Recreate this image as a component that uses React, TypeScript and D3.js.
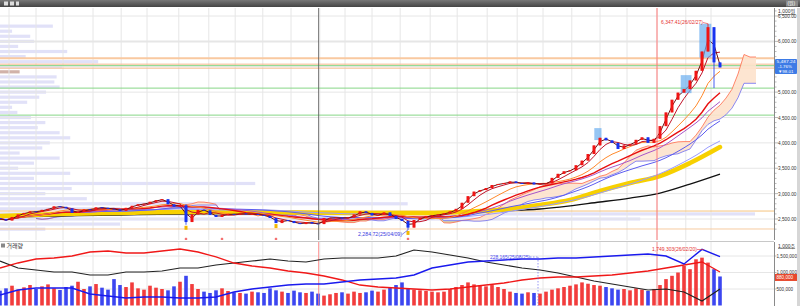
import React from "react";
import * as d3 from "d3";

// ---------------- data ----------------
const closes = [
  2500, 2470, 2540, 2590, 2620, 2650, 2640, 2680, 2700, 2750,
  2740, 2710, 2620, 2640, 2690, 2680, 2730, 2720, 2700, 2690,
  2660, 2720, 2760, 2790, 2800, 2840, 2870, 2890, 2790, 2740,
  2770, 2440, 2590, 2680, 2670, 2580, 2540, 2580, 2600, 2590,
  2610, 2590, 2600, 2580, 2560, 2520, 2420, 2480, 2460, 2420,
  2400, 2440, 2410, 2400, 2520, 2520, 2530, 2510, 2530, 2590,
  2650, 2620, 2570, 2580, 2630, 2560, 2500, 2460, 2330, 2480,
  2520, 2560, 2570, 2590, 2610, 2650, 2700, 2820, 2950, 3040,
  3070, 3110, 3170, 3190, 3210, 3240, 3210, 3190, 3220, 3180,
  3190, 3200, 3310, 3390, 3440, 3460, 3560, 3650, 3780, 3950,
  4100, 4050, 4000, 3880, 3950, 3980, 4060, 4110, 4000, 4080,
  4330, 4600, 4850, 4990, 5060, 5230, 5420, 5800, 6280, 5585.25,
  5487.24,
];
const firstOpen = 2520;
const volumes = [
  450, 520, 600, 480, 550, 620, 500, 580, 640, 520,
  470, 560, 600, 720, 500, 580, 650, 540, 480, 800,
  620, 560, 700, 520, 480, 600, 540, 500, 460, 580,
  720, 900, 650, 500, 420, 380, 460, 520, 440, 400,
  380, 360, 420, 400, 380, 520, 460, 420, 380, 450,
  400, 380, 420, 360, 300, 340, 380, 400, 360, 420,
  380, 400, 450, 420, 480, 560, 620, 700, 520, 480,
  460, 440, 420, 400, 420, 500, 560, 620, 700, 640,
  600, 580, 620, 560, 500, 420, 380, 360, 400, 380,
  360, 420, 480, 520, 560, 600, 640, 700, 660, 620,
  600, 560, 520, 480, 500, 460, 520, 480, 440, 500,
  620, 800, 900, 1000, 1200, 1100, 1400, 1450, 1300, 1100,
  880,
];
const wickIdx = [31, 68, 118, 119];
const wickHigh = [2790, 2470, 6347.41, 6280];
const wickLow = [2386, 2284.72, 5800, 5080];

const longMaIdx = [0, 10, 20, 30, 40, 50, 60, 70, 75, 80, 85, 90, 95, 100, 105, 110, 115, 120];
const yellowMa = [2559, 2598, 2618, 2638, 2638, 2628, 2618, 2618, 2628, 2657, 2697, 2776, 2874, 3051, 3209, 3346, 3602, 3917];
const blackIdx = [0, 10, 20, 30, 40, 50, 60, 70, 80, 90, 100, 105, 110, 115, 120];
const blackMa = [2539, 2559, 2579, 2598, 2608, 2618, 2618, 2618, 2648, 2697, 2835, 2913, 3012, 3189, 3386];

const invStep = 3;
const invRed = [1136, 1288, 1409, 1439, 1500, 1621, 1652, 1591, 1591, 1652, 1712, 1621, 1470, 1288, 1197, 1136, 1045, 985, 894, 773, 621, 561, 530, 500, 470, 500, 561, 621, 682, 773, 833, 864, 864, 894, 924, 985, 1045, 1136, 1227, 1318, 1015];
const invBlack = [1348, 1136, 1076, 1015, 1015, 924, 924, 1015, 1015, 1045, 1136, 1136, 1227, 1288, 1348, 1409, 1348, 1318, 1409, 1439, 1439, 1439, 1500, 1682, 1621, 1530, 1439, 1318, 1227, 1136, 1076, 985, 864, 742, 652, 561, 470, 500, 409, 136, 500];
const invBlue = [318, 470, 530, 530, 530, 348, 288, 227, 258, 258, 227, 227, 258, 409, 500, 561, 621, 652, 652, 712, 773, 803, 833, 924, 1136, 1227, 1318, 1348, 1379, 1409, 1409, 1439, 1439, 1470, 1500, 1530, 1561, 1500, 1258, 1700, 1480];

const profPrices = [6300, 6200, 6100, 6000, 5900, 5800, 5700, 5600, 5500, 5400, 5300, 5200, 5100, 5000, 4900, 4800, 4700, 4600, 4500, 4400, 4300, 4200, 4100, 4000, 3900, 3800, 3700, 3600, 3500, 3400, 3300, 3200, 3100, 3000, 2900, 2800, 2700, 2600, 2500, 2400, 2300];
const profVol = [7.0, 1.6, 4.0, 4.5, 2.4, 8.9, 3.4, 13.0, 8.2, 2.6, 7.5, 7.2, 7.9, 6.1, 5.2, 3.6, 1.6, 2.3, 4.1, 6.0, 5.0, 7.9, 9.3, 6.6, 5.6, 2.6, 7.9, 4.5, 2.4, 9.3, 4.5, 33.8, 9.5, 6.0, 11.5, 54.0, 15.9, 100, 84.8, 15.9, 6.0];
const currentBinPrice = 5400;

const levelVals = [5669, 5551, 5522, 5472, 5079, 4547, 2657, 2303];
const levelColors = ["#f9c9a0", "#f6b98c", "#86d686", "#f6b98c", "#86d686", "#86d686", "#f5c47e", "#f7cba0"];

const monthIdx = [1.5, 6, 10.5, 15.5, 20.2, 24.5, 29.8, 34.8, 39.2, 43.8, 48.5, 53.3, 57.5, 62, 66.7, 71.7, 76.2, 81.2, 86.2, 90.5, 95.3, 100, 104.5, 109.5, 114.3, 118.5];
const yearIdx = [53.1, 109.5];

const boxStart = [99.3, 113.7, 116.8];
const boxEnd = [100, 115, 118.3];
const boxLow = [4055, 4980, 5680];
const boxHigh = [4291, 5335, 6347];

const starIdx = [31, 37, 46, 68];
const lowMarkIdx = [31, 46, 68];

const priceTicks = [2500, 3000, 3500, 4000, 4500, 5000, 5500, 6000, 6500];
const volTicks = [500, 1000, 1500];
const currentLabel = ["5,487.24", "-1.76%", "\u25BC98.01"];

const FONT = "'Liberation Sans', Arial, 'Noto Sans CJK KR', sans-serif";

export default function App() {
  const n = closes.length;
  const x = d3.scaleLinear().domain([0, 120]).range([0, 720]);
  const y = d3.scaleLinear().domain([2500, 6500]).range([219, 16]);
  const yv = d3.scaleLinear().domain([0, 1500]).range([305.5, 256]);
  const px = d3.scaleLinear().domain([0, 100]).range([0, 755]);

  const opens = closes.map((c, i) => (i === 0 ? firstOpen : closes[i - 1]));
  const highs = closes.map((c, i) => {
    const w = wickIdx.indexOf(i);
    const b = Math.max(opens[i], c);
    return w >= 0 ? Math.max(b, wickHigh[w]) : b;
  });
  const lows = closes.map((c, i) => {
    const w = wickIdx.indexOf(i);
    const b = Math.min(opens[i], c);
    return w >= 0 ? Math.min(b, wickLow[w]) : b;
  });
  const ma = (k: number) => closes.map((_, i) => d3.mean(closes.slice(Math.max(0, i - k + 1), i + 1)) as number);
  const mid = (i: number, k: number) => {
    const s = Math.max(0, i - k + 1);
    return ((d3.max(highs.slice(s, i + 1)) as number) + (d3.min(lows.slice(s, i + 1)) as number)) / 2;
  };
  const shift = 6;
  const spanA: number[] = new Array(n + shift).fill(NaN);
  const spanB: number[] = new Array(n + shift).fill(NaN);
  for (let i = 0; i < n; i++) {
    spanA[i + shift] = (mid(i, 2) + mid(i, 6)) / 2;
    spanB[i + shift] = mid(i, 12);
  }

  const line = d3.line<number>().defined((d) => !isNaN(d)).x((d, i) => x(i)).y((d) => y(d));
  const idxLine = (idx: number[]) =>
    d3.line<number>().x((d, i) => x(idx[i])).y((d) => y(d)).curve(d3.curveMonotoneX);
  const invLine = d3.line<number>().x((d, i) => x(i * invStep)).y((d) => yv(d));

  const cloudBull = d3
    .area<number>()
    .defined((d, i) => !isNaN(spanA[i]))
    .x((d, i) => x(i))
    .y0((d, i) => y(spanB[i]))
    .y1((d, i) => y(Math.max(spanA[i], spanB[i])));
  const cloudBear = d3
    .area<number>()
    .defined((d, i) => !isNaN(spanA[i]))
    .x((d, i) => x(i))
    .y0((d, i) => y(spanA[i]))
    .y1((d, i) => y(Math.max(spanA[i], spanB[i])));

  const mas: { k: number; c: string; w: number }[] = [
    { k: 40, c: "#9a9cff", w: 1 },
    { k: 27, c: "#5c5cf0", w: 1 },
    { k: 17, c: "#a855c8", w: 1 },
    { k: 14, c: "#e81010", w: 1.4 },
    { k: 9, c: "#ff8a2c", w: 1 },
    { k: 4, c: "#c0142a", w: 1 },
    { k: 2, c: "#6a1010", w: 1 },
  ];

  const up = "#f01414";
  const down = "#1632f0";
  const gridC = "#e6e6e6";
  const lastVol = volumes[n - 1];
  const yLast = y(closes[n - 1]);
  const boxTop = yLast - 8.5;
  const boxBot = yLast + 6.5;

  return (
    <svg width={800} height={306} style={{ position: "fixed", left: 0, top: 0, background: "#fff", fontFamily: FONT }}>
      <defs>
        <clipPath id="mainClip"><rect x={0} y={8} width={774} height={232} /></clipPath>
        <clipPath id="lowClip"><rect x={0} y={242} width={774} height={64} /></clipPath>
        <linearGradient id="topbar" x1="0" y1="0" x2="0" y2="1">
          <stop offset="0" stopColor="#777" />
          <stop offset="1" stopColor="#444" />
        </linearGradient>
      </defs>
      <rect x={0} y={0} width={800} height={306} fill="#fff" />

      {/* ---------- main panel ---------- */}
      <g clipPath="url(#mainClip)">
        {profPrices.map((p, i) => (
          <rect key={"pf" + i} x={0} y={y(p) - 1.6} width={px(profVol[i])} height={3.2}
            fill={p === currentBinPrice ? "#c9a49a" : "#dcdcf7"} opacity={0.85} />
        ))}
        {priceTicks.map((t) => (
          <line key={"hg" + t} x1={0} x2={774} y1={y(t)} y2={y(t)} stroke={gridC} strokeWidth={t === 6000 ? 2 : 1} />
        ))}
        {monthIdx.map((m, i) => (
          <line key={"vg" + i} x1={x(m)} x2={x(m)} y1={8} y2={240} stroke={gridC} />
        ))}
        {levelVals.map((v, i) => (
          <line key={"lv" + i} x1={0} x2={774} y1={y(v)} y2={y(v)} stroke={levelColors[i]} strokeWidth={i === 0 ? 2 : 1} />
        ))}
        <path d={cloudBull(spanA) || ""} fill="#fde2cc" opacity={0.9} />
        <path d={cloudBear(spanA) || ""} fill="#cfc48a" opacity={0.75} />
        <path d={line(spanA) || ""} fill="none" stroke="#ff6a4a" strokeWidth={0.8} />
        <path d={line(spanB) || ""} fill="none" stroke="#6c6cf2" strokeWidth={0.8} />
        <path d={idxLine(blackIdx)(blackMa) || ""} fill="none" stroke="#111" strokeWidth={1.3} />
        <path d={idxLine(longMaIdx)(yellowMa) || ""} fill="none" stroke="#f7d000" strokeWidth={4.5} strokeLinecap="round" />
        {mas.map((m) => (
          <path key={"ma" + m.k} d={line(ma(m.k)) || ""} fill="none" stroke={m.c} strokeWidth={m.w} />
        ))}
        {boxStart.map((s, i) => (
          <rect key={"bx" + i} x={x(s) - 1.5} width={x(boxEnd[i]) - x(s) + 3} y={y(boxHigh[i])}
            height={y(boxLow[i]) - y(boxHigh[i])} fill="#6aaef0" opacity={0.7} />
        ))}
        {closes.map((c, i) => {
          const o = opens[i];
          const col = c >= o ? up : down;
          const top = y(Math.max(o, c));
          const h = Math.max(0.8, Math.abs(y(o) - y(c)));
          return (
            <g key={"cd" + i}>
              <line x1={x(i)} x2={x(i)} y1={y(highs[i])} y2={y(lows[i])} stroke={col} strokeWidth={0.8} />
              <rect x={x(i) - 1.5} y={top} width={3} height={h} fill={col} />
            </g>
          );
        })}
        {lowMarkIdx.map((i) => (
          <rect key={"lm" + i} x={x(i) - 1.5} y={y(lows[i]) + 1} width={3} height={4} fill="#f2b700" />
        ))}
        {starIdx.map((i) => (
          <g key={"st" + i} stroke="#ee2222" strokeWidth={0.8}>
            <line x1={x(i) - 1.3} x2={x(i) + 1.3} y1={239} y2={239} />
            <line x1={x(i)} x2={x(i)} y1={237.7} y2={240.3} />
          </g>
        ))}
        <line x1={x(yearIdx[0])} x2={x(yearIdx[0])} y1={8} y2={240} stroke="#555" strokeWidth={0.8} />
        <line x1={x(yearIdx[1])} x2={x(yearIdx[1])} y1={8} y2={240} stroke="#ff7a7a" strokeWidth={1} />
        <text x={661} y={24} fontSize={5.5} fill="#e53030" textLength={42} lengthAdjust="spacingAndGlyphs">6,347.41(26/02/27)</text>
        <line x1={703} x2={x(118)} y1={22.5} y2={y(6347.41)} stroke="#e53030" strokeWidth={0.6} />
        <text x={358} y={236} fontSize={5.5} fill="#3a3ae0" textLength={44} lengthAdjust="spacingAndGlyphs">2,284.72(25/04/09)</text>
        <line x1={402} x2={x(68)} y1={234.5} y2={y(2284.72)} stroke="#3a3ae0" strokeWidth={0.6} />
      </g>

      {/* ---------- lower panel ---------- */}
      <line x1={0} x2={774} y1={241.5} y2={241.5} stroke="#c8c8c8" />
      <g clipPath="url(#lowClip)">
        {volTicks.map((t) => (
          <line key={"lg" + t} x1={0} x2={774} y1={yv(t)} y2={yv(t)} stroke={gridC} />
        ))}
        {monthIdx.map((m, i) => (
          <line key={"lvg" + i} x1={x(m)} x2={x(m)} y1={242} y2={306} stroke={gridC} />
        ))}
        {volumes.map((v, i) => (
          <rect key={"vb" + i} x={x(i) - 1.8} width={3.6} y={yv(v)} height={yv(0) - yv(v)}
            fill={closes[i] >= opens[i] ? "#f23c3c" : "#3c46f0"} />
        ))}
        {yearIdx.map((m, i) => (
          <line key={"ly" + i} x1={x(m)} x2={x(m)} y1={242} y2={306} stroke="#ff8080" strokeWidth={0.8} />
        ))}
        <path d={invLine(invBlack) || ""} fill="none" stroke="#222" strokeWidth={1.2} />
        <path d={invLine(invRed) || ""} fill="none" stroke="#f01818" strokeWidth={1.3} />
        <path d={invLine(invBlue) || ""} fill="none" stroke="#1a1aee" strokeWidth={1.4} />
        <line x1={538} x2={538} y1={257} y2={306} stroke="#6a6af0" strokeWidth={0.7} strokeDasharray="1.5,1.5" />
        <line x1={530} x2={538} y1={257} y2={257} stroke="#6a6af0" strokeWidth={0.7} strokeDasharray="1.5,1.5" />
        <text x={490} y={259} fontSize={5.5} fill="#4a4af0" textLength={40} lengthAdjust="spacingAndGlyphs">228,165(25/08/25)</text>
        <text x={652} y={251} fontSize={5.5} fill="#e53030" textLength={45} lengthAdjust="spacingAndGlyphs">1,749,303(26/02/20)</text>
        <line x1={697} x2={704} y1={249.5} y2={249.5} stroke="#e53030" strokeWidth={0.6} />
      </g>
      <rect x={1} y={243.5} width={4} height={4} fill="#888" />
      <text x={6.5} y={247.5} fontSize={6} fill="#333">거래량</text>

      {/* ---------- right axis ---------- */}
      <rect x={774} y={8} width={26} height={298} fill="#fff" />
      <line x1={774.5} x2={774.5} y1={8} y2={240} stroke="#8a8a8a" />
      <line x1={774.5} x2={774.5} y1={242} y2={306} stroke="#8a8a8a" />
      {d3.range(2300, 6601, 100).map((t) => (
        <line key={"mt" + t} x1={774.5} x2={t % 500 === 0 ? 778 : 776.5} y1={y(t)} y2={y(t)} stroke="#8a8a8a" strokeWidth={0.6} />
      ))}
      {priceTicks.filter((t) => y(t) < boxTop - 2 || y(t) > boxBot + 2).map((t) => (
        <text key={"pt" + t} x={778} y={y(t) + 2} fontSize={6} fill="#333" textLength={18.5} lengthAdjust="spacingAndGlyphs">
          {d3.format(",.2f")(t)}
        </text>
      ))}
      {volTicks.map((t) => (
        <line key={"vt" + t} x1={774.5} x2={776.5} y1={yv(t)} y2={yv(t)} stroke="#8a8a8a" strokeWidth={0.6} />
      ))}
      {volTicks.map((t) => (
        <text key={"vtt" + t} x={776.5} y={yv(t) + 1.5} fontSize={4.6} fill="#333">
          {d3.format(",")(t * 1000)}
        </text>
      ))}
      {/* current price box */}
      <rect x={775} y={boxTop} width={22} height={boxBot - boxTop} fill="#3d7be6" rx={1} />
      <text x={776.5} y={boxTop + 4.3} fontSize={4.4} fill="#fff" textLength={19} lengthAdjust="spacingAndGlyphs">{currentLabel[0]}</text>
      <text x={778} y={boxTop + 9} fontSize={4.4} fill="#fff">{currentLabel[1]}</text>
      <text x={778} y={boxTop + 13.7} fontSize={4.4} fill="#fff">{currentLabel[2]}</text>
      {/* last volume box */}
      <rect x={775} y={yv(lastVol) - 2.5} width={22} height={7} fill="#e8482c" />
      <text x={776.5} y={yv(lastVol) + 3} fontSize={4.6} fill="#fff">
        {d3.format(",")(lastVol * 1000)}
      </text>
      <text x={778} y={13} fontSize={5} fill="#333" textDecoration="underline">1,000원</text>
      <text x={778} y={247.5} fontSize={5} fill="#333" textDecoration="underline">1,000주</text>
      <rect x={797} y={8} width={3} height={298} fill="#d6d6d6" />

      {/* ---------- top bar ---------- */}
      <rect x={0} y={0} width={800} height={7} fill="url(#topbar)" />
      <rect x={4} y={1.5} width={4} height={4} fill="#ddd" />
      <rect x={10} y={1.5} width={4} height={4} fill="#ddd" />
      <rect x={16} y={1.5} width={3} height={4} fill="#ddd" />
      <rect x={786} y={0.5} width={12} height={6} fill="#8a8a8a" />
      <text x={787.5} y={5.3} fontSize={4.8} fill="#fff">(원)</text>
    </svg>
  );
}
